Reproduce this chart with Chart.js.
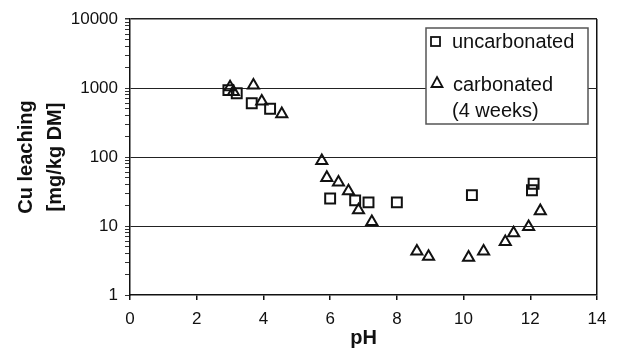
<!DOCTYPE html>
<html>
<head>
<meta charset="utf-8">
<script src="https://cdn.jsdelivr.net/npm/chart.js@4.4.0/dist/chart.umd.min.js"></script>
<style>
  html, body { margin: 0; padding: 0; background: #fff; }
</style>
</head>
<body>
<canvas id="mycanvas" width="618" height="350"></canvas>
<script>
// values
var phUncarb = [2.95, 3.2, 3.65, 4.2, 6.0, 6.75, 7.15, 8.0, 10.25, 12.05, 12.1];
var cuUncarb = [930, 840, 600, 500, 25, 23.5, 22, 22, 28, 33, 41];

var phCarb = [3.0, 3.1, 3.7, 3.95, 4.55, 5.75, 5.9, 6.25, 6.55, 6.85, 7.25, 8.6, 8.95, 10.15, 10.6, 11.25, 11.5, 11.95, 12.3];
var cuCarb = [1030, 880, 1090, 640, 420, 88, 50, 43, 32, 17, 11.5, 4.3, 3.6, 3.5, 4.3, 5.9, 7.9, 9.7, 16.5];

var seriesLabels = ['uncarbonated', ['carbonated', '(4 weeks)']];
var xTicks = [0, 2, 4, 6, 8, 10, 12, 14];
var yTicks = [1, 10, 100, 1000, 10000];
var yTitle = ['Cu leaching', '[mg/kg DM]'];
var xTitle = 'pH';

var FONT = "'Liberation Sans', Arial, sans-serif";

function toPoints(xs, ys) {
  var pts = [];
  for (var i = 0; i < xs.length; i++) pts.push({x: xs[i], y: ys[i]});
  return pts;
}

function isDecade(v) {
  var l = Math.log10(v);
  return Math.abs(l - Math.round(l)) < 1e-6;
}

// legend drawn inside the plot, with a two line entry
var boxLegend = {
  id: 'boxLegend',
  afterDatasetsDraw: function(chart) {
    var c = chart.ctx, a = chart.chartArea;
    var x0 = a.right - 171, y0 = a.top + 9, w = 162, h = 96;
    c.save();
    c.fillStyle = '#fff';
    c.fillRect(x0, y0, w, h);
    c.strokeStyle = '#555';
    c.lineWidth = 1.5;
    c.strokeRect(x0, y0, w, h);

    c.strokeStyle = '#111';
    c.lineWidth = 1.8;
    // square
    c.strokeRect(x0 + 5, y0 + 9, 9, 9);
    // triangle
    var tx = x0 + 11, ty = y0 + 58;
    c.beginPath();
    c.moveTo(tx, ty - 9);
    c.lineTo(tx + 5.5, ty + 1);
    c.lineTo(tx - 5.5, ty + 1);
    c.closePath();
    c.stroke();

    c.fillStyle = '#111';
    c.font = '20px ' + FONT;
    c.textBaseline = 'middle';
    c.textAlign = 'left';
    c.fillText(seriesLabels[0], x0 + 26, y0 + 14);
    c.fillText(seriesLabels[1][0], x0 + 27, y0 + 57);
    c.fillText(seriesLabels[1][1], x0 + 26, y0 + 83);
    c.restore();
  }
};

var ctx = document.getElementById('mycanvas');
new Chart(ctx, {
  type: 'scatter',
  data: {
    datasets: [
      {
        label: 'uncarbonated',
        data: toPoints(phUncarb, cuUncarb),
        pointStyle: 'rect',
        pointRadius: 7,
        pointHoverRadius: 7,
        pointBorderWidth: 2,
        borderColor: '#111',
        backgroundColor: 'rgba(0,0,0,0)'
      },
      {
        label: 'carbonated (4 weeks)',
        data: toPoints(phCarb, cuCarb),
        pointStyle: 'triangle',
        pointRadius: 6.4,
        pointHoverRadius: 6.4,
        pointBorderWidth: 2,
        borderColor: '#111',
        backgroundColor: 'rgba(0,0,0,0)'
      }
    ]
  },
  options: {
    responsive: false,
    animation: false,
    layout: { padding: { top: 19, right: 21, left: 0, bottom: 0 } },
    plugins: {
      legend: { display: false },
      tooltip: { enabled: false }
    },
    scales: {
      x: {
        type: 'linear',
        min: 0,
        max: 14,
        afterBuildTicks: function(scale) {
          scale.ticks = xTicks.map(function(v) { return {value: v}; });
        },
        afterFit: function(scale) { scale.height = 55; },
        border: { color: '#111', width: 1.5 },
        grid: {
          drawOnChartArea: true,
          color: function(c) { return c.tick && c.tick.value === 14 ? '#111' : 'rgba(0,0,0,0)'; },
          lineWidth: 1.5,
          tickColor: '#111',
          tickLength: 5
        },
        ticks: {
          color: '#111',
          padding: 9,
          maxRotation: 0,
          font: { family: FONT, size: 17 }
        },
        title: {
          display: true,
          text: xTitle,
          color: '#111',
          padding: { top: 0, bottom: 0 },
          font: { family: FONT, size: 20, weight: 'bold', lineHeight: 1.15 }
        }
      },
      y: {
        type: 'logarithmic',
        min: 1,
        max: 10000,
        afterBuildTicks: function(scale) {
          // keep 1..9 per decade, drop the 1.5 steps
          scale.ticks = scale.ticks.filter(function(t) {
            var v = t.value;
            var s = v / Math.pow(10, Math.floor(Math.log10(v) + 1e-9));
            return Math.abs(s - Math.round(s)) < 1e-6;
          });
        },
        afterFit: function(scale) { scale.width = 130; },
        border: { color: '#111', width: 1.5 },
        grid: {
          drawOnChartArea: true,
          color: function(c) {
            var v = c.tick && c.tick.value;
            return (v && v > 1 && isDecade(v)) ? '#222' : 'rgba(0,0,0,0)';
          },
          lineWidth: function(c) {
            return c.tick && c.tick.value === 10000 ? 1.5 : 1;
          },
          tickColor: '#333',
          tickLength: 5
        },
        ticks: {
          autoSkip: false,
          color: '#111',
          padding: 7,
          font: { family: FONT, size: 17 },
          callback: function(v) {
            return yTicks.indexOf(v) >= 0 ? String(v) : '';
          }
        },
        title: {
          display: true,
          text: yTitle,
          color: '#111',
          padding: { top: 12, bottom: 0 },
          font: { family: FONT, size: 20, weight: 'bold', lineHeight: 1.45 }
        }
      }
    }
  },
  plugins: [boxLegend]
});
</script>
</body>
</html>
